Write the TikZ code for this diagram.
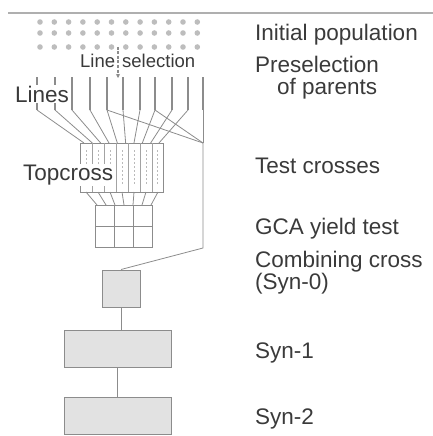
\documentclass[tikz,border=0pt]{standalone}
\usepackage{fontspec}
\setmainfont{Liberation Sans}
\usetikzlibrary{arrows.meta}
\definecolor{lc}{HTML}{8C8C8C}
\definecolor{txt}{HTML}{3A3A3A}
\definecolor{boxfill}{HTML}{E2E2E2}
\definecolor{dotc}{HTML}{BDBDBD}
\begin{document}
\begin{tikzpicture}[x=1pt,y=-1pt,
  lbl/.style={anchor=base west,inner sep=0pt,text=txt,font=\fontsize{22.5}{22}\selectfont,align=left},
  sidelbl/.style={anchor=base west,inner sep=1pt,text=txt,fill=white,font=\fontsize{22.5}{22}\selectfont},
  sellbl/.style={anchor=base west,inner sep=0pt,text=txt,font=\fontsize{18.5}{18}\selectfont},
  ln/.style={draw=lc,line width=0.8pt},
  bar/.style={draw=lc,line width=1.4pt},
  box/.style={draw=lc,line width=1pt,fill=boxfill,inner sep=0pt},
  frame/.style={draw=lc,line width=0.9pt,fill=white,inner sep=0pt}]
\useasboundingbox (0,0) rectangle (433,436);

% top rule
\coordinate (r1) at (8,13);
\coordinate (r2) at (433,13);
\draw[draw=lc!70,line width=1.2pt] (r1) -- (r2);

% initial population dots
\foreach \yy in {22,33,47}{
  \foreach \k in {0,...,11}{
    \fill[dotc] (40+14.3*\k,\yy) circle (2.8);
  }
}

% line selection arrow
\coordinate (ls1) at (118,47);
\coordinate (ls2) at (118,78);
\draw[draw=lc,line width=1.2pt,dash pattern=on 3pt off 1.5pt,-{Stealth[length=4pt,width=4pt]}] (ls1) -- (ls2);

% bars (lines)
\foreach \i/\x in {1/37,2/55,3/72,4/90,5/107,6/123,7/140,8/155,9/172,10/188,11/203}{
  \coordinate (bt\i) at (\x,77);
  \coordinate (bb\i) at (\x,110);
  \draw[bar] (bt\i) -- (bb\i);
}

% topcross box
\node[frame,minimum width=83pt,minimum height=49pt] (tc) at (121.5,167.5) {};
\foreach \x in {92,104,116,128,140,152}{
  \draw[draw=lc!80,line width=0.7pt] (\x,143) -- (\x,192);
}
\foreach \x in {86,98,110,122,134,146,157}{
  \draw[draw=lc!60,line width=0.7pt,dash pattern=on 2pt off 2pt] (\x,150) -- (\x,185);
}

% connectors bars -> topcross
\foreach \i in {1,...,10}{
  \coordinate (tt\i) at (84+8.33*\i-8.33,143);
  \draw[ln] (bb\i) -- (tt\i);
}
\coordinate (jn) at (203,143);
\coordinate (bend) at (203,248);
\draw[ln] (bb5) -- (jn);
\draw[ln] (bb8) -- (jn);
\draw[ln] (bb11) -- (jn);

% GCA grid
\node[frame,minimum width=57pt,minimum height=42pt] (gca) at (123.5,226) {};
\coordinate (g1) at (114,205); \coordinate (g2) at (114,247);
\coordinate (g3) at (133,205); \coordinate (g4) at (133,247);
\coordinate (g5) at (95,226);  \coordinate (g6) at (152,226);
\draw[ln] (g1) -- (g2);
\draw[ln] (g3) -- (g4);
\draw[ln] (g5) -- (g6);

% topcross -> grid
\foreach \j in {1,...,7}{
  \coordinate (tb\j) at (86+12*\j-12,192);
  \coordinate (gt\j) at (97+9*\j-9,205);
  \draw[ln] (tb\j) -- (gt\j);
}

% combining cross and synthetics
\node[box,minimum width=38pt,minimum height=37pt] (c0) at (121,288.5) {};
\node[box,minimum width=107pt,minimum height=37pt] (s1) at (117.5,348.5) {};
\node[box,minimum width=107pt,minimum height=37pt] (s2) at (117.5,415.5) {};
\draw[ln] (jn) -- (bend) -- (c0.north);
\draw[ln] (c0.south) -- (c0.south |- s1.north);
\draw[ln] (s1.south) -- (s1.south |- s2.north);

% left labels
\node[sidelbl] (lines) at (14,102) {Lines};
\node[sidelbl] (topc) at (22,180) {Topcross};
\node[sellbl] (lsa) at (80,67) {Line};
\node[sellbl] (lsb) at (122,67) {selection};

% right labels
\node[lbl] (l1) at (255,41) {Initial population};
\node[lbl] (l2) at (255,94) {Preselection\\[0pt]\hspace*{22pt}of parents};
\node[lbl] (l3) at (255,173) {Test crosses};
\node[lbl] (l4) at (255,234) {GCA yield test};
\node[lbl] (l5) at (255,289) {Combining cross\\(Syn-0)};
\node[lbl] (l6) at (255,358) {Syn-1};
\node[lbl] (l7) at (255,424) {Syn-2};
\end{tikzpicture}
\end{document}
